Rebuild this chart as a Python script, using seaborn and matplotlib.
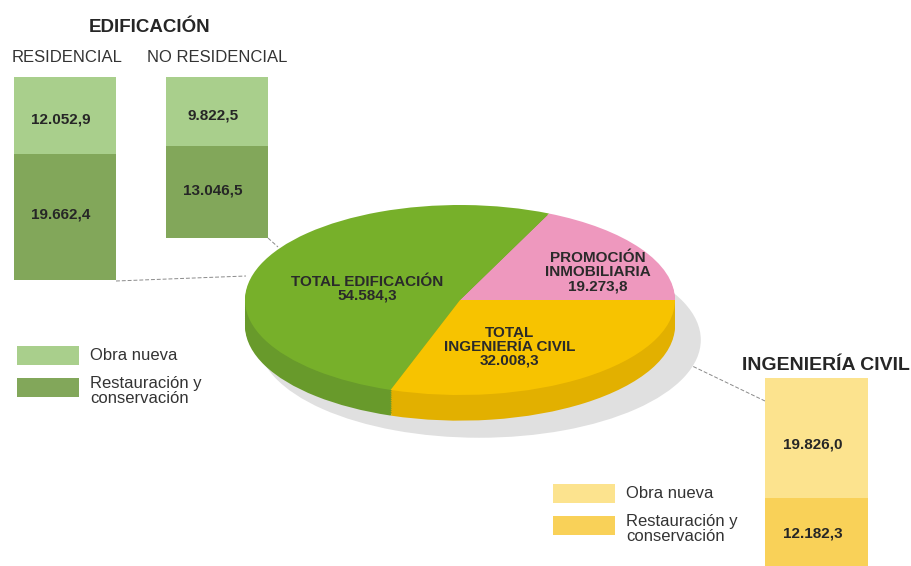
import matplotlib
matplotlib.use("Agg")
import matplotlib.pyplot as plt
import seaborn as sns
from matplotlib.patches import Rectangle

sns.set_style("white")
plt.rcParams['font.family'] = ['Liberation Sans', 'DejaVu Sans']

# data (millones de euros)
pie_labels = ["PROMOCIÓN\nINMOBILIARIA", "TOTAL EDIFICACIÓN", "TOTAL\nINGENIERÍA CIVIL"]
pie_values = [19273.8, 54584.3, 32008.3]
bar_groups = ["RESIDENCIAL", "NO RESIDENCIAL", "INGENIERÍA CIVIL"]
obra_nueva = [12052.9, 9822.5, 19826.0]
restauracion = [19662.4, 13046.5, 12182.3]
legend_labels = ["Obra nueva", "Restauración y\nconservación"]

pie_top = ["#ee98be", "#77b02a", "#f7c300"]
pie_side = ["#c97a9c", "#689a2b", "#e2b000"]
green_light, green_dark = "#a9cf8c", "#82a75a"
yellow_light, yellow_dark = "#fce38e", "#f9d158"

W, H = 912, 566


def fmt(v):
    return f"{v:,.1f}".replace(",", "X").replace(".", ",").replace("X", ".")


def px_axes(fig, x0, y0, x1, y1):
    return fig.add_axes([x0 / W, (H - y1) / H, (x1 - x0) / W, (y1 - y0) / H])


fig = plt.figure(figsize=(W / 100, H / 100), dpi=100)

# background / annotation layer in pixel coordinates
bg = fig.add_axes([0, 0, 1, 1])
bg.set_xlim(0, W)
bg.set_ylim(H, 0)
bg.axis("off")

# pie with fake 3D depth
pie_ax = px_axes(fig, 230, 205, 712, 440)
pie_ax.pie([1], colors=["#e0e0e0"], center=(0.09, -0.42), radius=1.03,
           wedgeprops=dict(linewidth=0))
depth = 0.27
steps = 14
for i in range(steps, 0, -1):
    d = depth * i / steps
    pie_ax.pie(pie_values, colors=pie_side, startangle=0, counterclock=True,
               center=(0, -d), wedgeprops=dict(linewidth=0))
pie_ax.pie(pie_values, colors=pie_top, startangle=0, counterclock=True,
           wedgeprops=dict(linewidth=0))
pie_ax.set_aspect("auto")
pie_ax.set_xlim((230 - 460) / 215, (712 - 460) / 215)
pie_ax.set_ylim(1 - 235 / 95, 1)
pie_ax.axis("off")

pie_text_pos = [(0.64, 0.29), (-0.43, 0.12), (0.23, -0.49)]
for lab, val, (tx, ty) in zip(pie_labels, pie_values, pie_text_pos):
    pie_ax.text(tx, ty, f"{lab}\n{fmt(val)}", ha="center", va="center",
                fontsize=11, fontweight="bold", color="#2a2a2a", linespacing=1.0)

# stacked bars
bar_boxes = [(14, 77, 116, 280), (166, 77, 268, 238), (765, 378, 868, 572)]
bar_colors = [(green_light, green_dark), (green_light, green_dark), (yellow_light, yellow_dark)]
for grp, nueva, rest, box, (cl, cd) in zip(bar_groups, obra_nueva, restauracion, bar_boxes, bar_colors):
    ax = px_axes(fig, *box)
    total = nueva + rest
    sns.barplot(x=[grp], y=[total], color=cl, saturation=1, width=1, ax=ax, linewidth=0)
    sns.barplot(x=[grp], y=[rest], color=cd, saturation=1, width=1, ax=ax, linewidth=0)
    ax.set_xlim(-0.5, 0.5)
    ax.set_ylim(0, total)
    ax.axis("off")
    ax.text(-0.04, rest + nueva * 0.45, fmt(nueva), ha="center", va="center",
            fontsize=11, fontweight="bold", color="#262626",
            family=["Liberation Sans Narrow", "Liberation Sans"])
    ax.text(-0.04, rest * 0.52, fmt(rest), ha="center", va="center",
            fontsize=11, fontweight="bold", color="#262626",
            family=["Liberation Sans Narrow", "Liberation Sans"])

# titles
bg.text(150, 27, "EDIFICACIÓN", ha="center", va="center", fontsize=13.5,
        fontweight="bold", color="#262626")
bg.text(67, 58, bar_groups[0], ha="center", va="center", fontsize=12, color="#333333")
bg.text(217, 58, bar_groups[1], ha="center", va="center", fontsize=12, color="#333333")
bg.text(826, 366, bar_groups[2], ha="center", va="center", fontsize=14,
        fontweight="bold", color="#262626")

# legends
for (lx, ly), (cl, cd) in [((17, 346), (green_light, green_dark)),
                           ((553, 484), (yellow_light, yellow_dark))]:
    bg.add_patch(Rectangle((lx, ly), 62, 19, color=cl, lw=0))
    bg.add_patch(Rectangle((lx, ly + 32), 62, 19, color=cd, lw=0))
    bg.text(lx + 73, ly + 10, legend_labels[0], ha="left", va="center",
            fontsize=12, color="#333333")
    bg.text(lx + 73, ly + 45, legend_labels[1], ha="left", va="center",
            fontsize=12, color="#333333", linespacing=0.95)

# leader lines
line_kw = dict(color="#8a8a8a", lw=0.7, ls=(0, (4, 2)))
bg.plot([116, 246], [281, 276], **line_kw)
bg.plot([268, 278], [238, 247], **line_kw)
bg.plot([688, 765], [364, 401], **line_kw)

fig.savefig("out.png", dpi=100)
